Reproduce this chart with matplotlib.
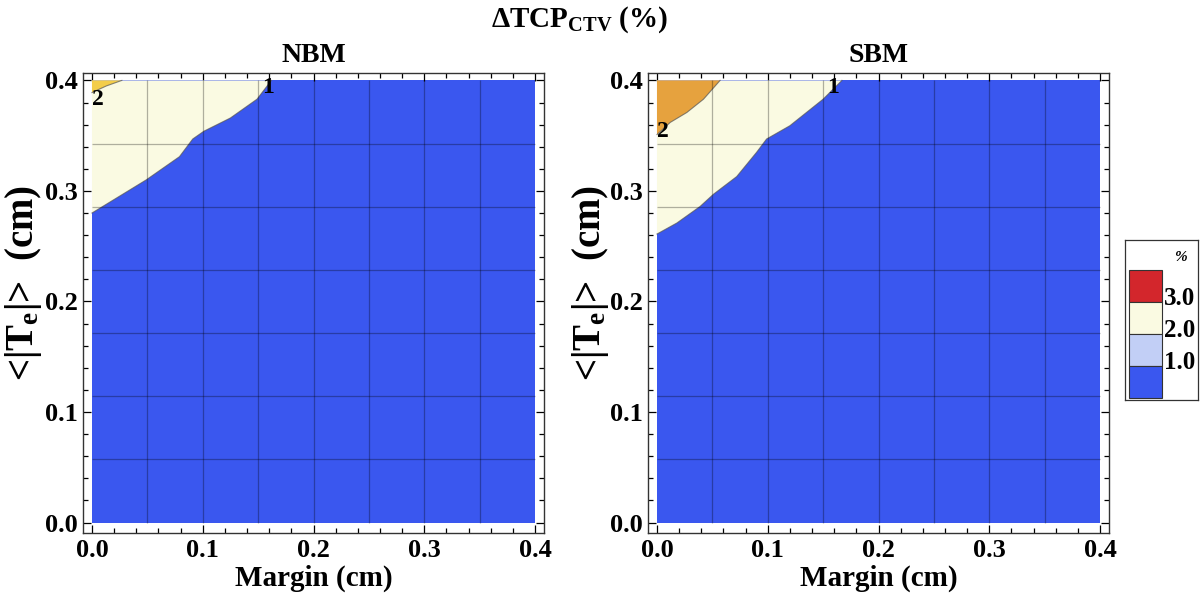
import matplotlib
matplotlib.use("Agg")
import matplotlib.pyplot as plt
from matplotlib.patches import Rectangle

plt.rcParams['font.family'] = ['Liberation Serif', 'DejaVu Serif']
plt.rcParams['font.weight'] = 'bold'
plt.rcParams['mathtext.fontset'] = 'custom'
plt.rcParams['mathtext.rm'] = 'Liberation Serif:bold'
plt.rcParams['mathtext.bf'] = 'Liberation Serif:bold'
plt.rcParams['mathtext.it'] = 'Liberation Serif:italic:bold'

# ---------------- data ----------------
panel_names = ["NBM", "SBM"]

# 1% contour (boundary between blue and cream regions): margin (cm), <|Te|> (cm)
nbm_c1_x = [0.000, 0.049, 0.079, 0.091, 0.101, 0.125, 0.149, 0.162]
nbm_c1_y = [0.280, 0.310, 0.331, 0.347, 0.354, 0.366, 0.383, 0.400]
# 2% contour (cream / gold)
nbm_c2_x = [0.000, 0.013, 0.027]
nbm_c2_y = [0.389, 0.395, 0.400]

sbm_c1_x = [0.000, 0.018, 0.039, 0.051, 0.072, 0.090, 0.099, 0.120, 0.150, 0.167]
sbm_c1_y = [0.261, 0.271, 0.286, 0.297, 0.313, 0.335, 0.347, 0.359, 0.383, 0.400]
sbm_c2_x = [0.000, 0.012, 0.027, 0.042, 0.057]
sbm_c2_y = [0.351, 0.362, 0.371, 0.383, 0.400]

# contour labels: (text, x, y)
nbm_labels = [("1", 0.159, 0.394), ("2", 0.005, 0.383)]
sbm_labels = [("1", 0.159, 0.394), ("2", 0.005, 0.354)]

# legend levels
legend_levels = ["3.0", "2.0", "1.0"]
legend_colors = ["#d3262c", "#fafae2", "#c2cff6", "#3a57ef"]

x_range = (0.0, 0.4)
y_range = (0.0, 0.4)
mesh_x = [0.05, 0.10, 0.15, 0.20, 0.25, 0.30, 0.35]
mesh_y = [0.4 * k / 7 for k in range(1, 7)]
ticks = [0.0, 0.1, 0.2, 0.3, 0.4]

blue = "#3a57ef"
cream = "#fafae2"
top_colors = ["#f3cd4a", "#e6a23e"]

panels = [
    (nbm_c1_x, nbm_c1_y, nbm_c2_x, nbm_c2_y, nbm_labels),
    (sbm_c1_x, sbm_c1_y, sbm_c2_x, sbm_c2_y, sbm_labels),
]

fig = plt.figure(figsize=(12, 5.94), dpi=100)

axes_left = [83 / 1200, 648 / 1200]
for i, (c1x, c1y, c2x, c2y, labels) in enumerate(panels):
    ax = fig.add_axes([axes_left[i], 1 - 533 / 594, 461 / 1200, 460 / 594])
    x0, x1 = x_range
    y0, y1 = y_range
    # blue base region
    ax.fill([x0, x1, x1, x0], [y0, y0, y1, y1], color=blue, lw=0, zorder=1)
    # cream region above 1% contour
    px = list(c1x) + [x0]
    py = list(c1y) + [y1]
    ax.fill(px, py, color=cream, lw=0, zorder=2)
    ax.plot(c1x, c1y, color="#555555", lw=0.8, alpha=0.7, zorder=3)
    # gold/orange region above 2% contour
    px2 = list(c2x) + [x0]
    py2 = list(c2y) + [y1]
    ax.fill(px2, py2, color=top_colors[i], lw=0, zorder=2.5)
    ax.plot(c2x, c2y, color="#555555", lw=0.8, alpha=0.7, zorder=3)
    # mesh
    ax.vlines(mesh_x, y0, y1, colors="black", lw=0.9, alpha=0.3, zorder=4)
    ax.hlines(mesh_y, x0, x1, colors="black", lw=0.9, alpha=0.3, zorder=4)
    # contour labels
    for t, lx, ly in labels:
        ax.text(lx, ly, t, fontsize=17, fontweight='bold', ha='center', va='center', zorder=5)

    ax.set_xlim(-0.0081, 0.4081)
    ax.set_ylim(-0.0095, 0.4067)
    ax.set_xticks(ticks)
    ax.set_yticks(ticks)
    ax.set_xticklabels([f"{t:.1f}" for t in ticks])
    ax.set_yticklabels([f"{t:.1f}" for t in ticks])
    ax.set_xticks([k * 0.02 for k in range(21)], minor=True)
    ax.set_yticks([k * 0.02 for k in range(21)], minor=True)
    ax.tick_params(which='both', direction='in', top=True, right=True, labelsize=19, width=0.9)
    ax.tick_params(which='major', length=6, pad=4)
    ax.tick_params(which='minor', length=3.5)
    for lab in ax.get_xticklabels() + ax.get_yticklabels():
        lab.set_fontweight('bold')
    for s in ax.spines.values():
        s.set_linewidth(1.0)
        s.set_color("#333333")

    ax.set_xlabel("Margin (cm)", fontsize=21, fontweight='bold')
    ax.xaxis.label.set_va('center')
    ax.xaxis.set_label_coords(0.5, -0.098)
    ax.set_ylabel("<|T$_\\mathbf{e}$|>  (cm)", fontsize=28, fontweight='bold')
    ax.yaxis.label.set_va('center')
    ax.yaxis.set_label_coords(-0.128 if i == 0 else -0.124, 0.543)
    ax.text(0.5, 1.037, panel_names[i], transform=ax.transAxes, fontsize=20,
            fontweight='bold', ha='center', va='center')

fig.text(580 / 1200, 1 - 20 / 594, "$\\mathbf{\\Delta TCP}_{\\mathbf{CTV}}$ (%)",
         fontsize=21, fontweight='bold', ha='center', va='center')

# legend box
lax = fig.add_axes([1125 / 1200, 1 - 400 / 594, 73 / 1200, 160 / 594])
lax.set_xlim(0, 73)
lax.set_ylim(160, 0)
lax.set_xticks([])
lax.set_yticks([])
for s in lax.spines.values():
    s.set_linewidth(0.9)
    s.set_color("#333333")
patch_top = 30
patch_h = 32
for k, c in enumerate(legend_colors):
    lax.add_patch(Rectangle((4, patch_top + k * patch_h), 33, patch_h,
                            facecolor=c, edgecolor="#333333", lw=0.8))
for k, t in enumerate(legend_levels):
    lax.text(39, patch_top + (k + 1) * patch_h - 4, t, fontsize=18, fontweight='bold',
             ha='left', va='center')
lax.text(55, 17, "%", fontsize=11, fontstyle='italic', ha='center', va='center')

fig.savefig("out.png", dpi=100)
